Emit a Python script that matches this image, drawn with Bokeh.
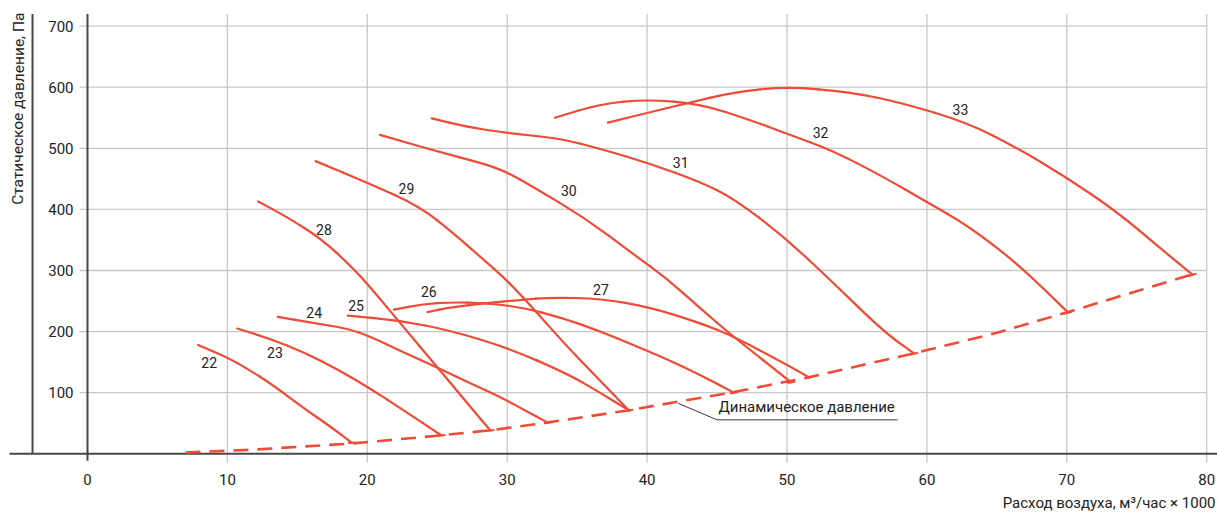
import numpy as np
from bokeh.plotting import figure
from bokeh.models import Range1d
from bokeh.core.properties import value
from bokeh.embed import file_html
from bokeh.resources import INLINE

# ---- data ----
c22_x = [7.9, 10.0, 11.5, 13.1, 15.5, 17.4, 18.9]
c22_y = [178, 158, 138, 115, 74, 44, 18]
c23_x = [10.7, 13.1, 15.5, 17.9, 20.2, 22.6, 25.3]
c23_y = [205, 188, 166, 138, 107, 71, 30]
c24_x = [13.6, 15.9, 18.6, 20.2, 22.6, 25.1, 27.5, 29.5, 31.2, 32.9]
c24_y = [224, 215, 205, 192, 166, 140, 114, 93, 72, 51]
c25_x = [18.6, 22.4, 25.9, 30.0, 34.3, 36.5, 38.7]
c25_y = [226, 218, 202, 174, 131, 102, 71]
c26_x = [21.9, 24.0, 26.0, 28.3, 31.0, 34.0, 36.7, 39.0, 41.4, 43.8, 46.2]
c26_y = [236, 245, 248, 247, 240, 222, 200, 178, 155, 129, 100]
c27_x = [24.3, 26.0, 28.3, 31.0, 33.1, 36.7, 40.2, 43.8, 46.2, 49.8, 51.6]
c27_y = [232, 240, 246, 252, 256, 254, 240, 214, 192, 148, 125]
c28_x = [12.2, 14.3, 16.7, 18.8, 20.2, 22.6, 25.0, 27.4, 28.8]
c28_y = [413, 387, 352, 308, 273, 207, 142, 76, 38]
c29_x = [16.3, 20.2, 23.8, 26.2, 28.0, 30.0, 32.2, 34.3, 36.5, 38.7]
c29_y = [479, 442, 404, 360, 324, 284, 229, 175, 123, 71]
c30_x = [20.9, 24.8, 28.3, 30.0, 31.9, 35.5, 39.0, 41.4, 43.8, 46.2, 50.3]
c30_y = [522, 496, 475, 461, 436, 387, 327, 287, 238, 191, 117]
c31_x = [24.6, 27.1, 30.0, 33.8, 36.7, 40.2, 43.8, 46.2, 49.8, 53.3, 56.9, 59.1]
c31_y = [549, 535, 525, 516, 499, 475, 445, 418, 355, 280, 200, 164]
c32_x = [33.4, 36.7, 40.0, 43.8, 47.4, 50.0, 53.3, 56.9, 60.0, 62.9, 66.5, 70.1]
c32_y = [550, 573, 580, 573, 546, 524, 496, 453, 412, 374, 311, 231]
c33_x = [37.2, 40.0, 42.9, 46.2, 50.0, 54.5, 58.1, 62.9, 66.5, 70.0, 73.6, 76.7, 79.0]
c33_y = [542, 558, 574, 592, 601, 592, 575, 542, 500, 452, 396, 336, 293]

dyn_x = [7.0, 12.0, 19.0, 25.2, 29.0, 32.8, 38.6, 46.2, 51.5, 59.0, 65.0, 70.1, 79.0]
dyn_y = [2, 7, 17, 30, 39, 51, 71, 101, 125, 164, 198, 232, 294]

curve_names = ["22", "23", "24", "25", "26", "27", "28", "29", "30", "31", "32", "33"]
label_x = [8.7, 13.4, 16.2, 19.2, 24.4, 36.7, 16.9, 22.8, 34.4, 42.4, 52.4, 62.4]
label_y = [150, 166, 231, 242, 266, 269, 367, 435, 431, 477, 526, 564]

x_ticks = [0, 10, 20, 30, 40, 50, 60, 70, 80]
y_ticks = [100, 200, 300, 400, 500, 600, 700]

x_title = "Расход воздуха, м³/час × 1000"
y_title = "Статическое давление, Па"
dyn_title = "Динамическое давление"

curves_x = [c22_x, c23_x, c24_x, c25_x, c26_x, c27_x, c28_x, c29_x, c30_x, c31_x, c32_x, c33_x]
curves_y = [c22_y, c23_y, c24_y, c25_y, c26_y, c27_y, c28_y, c29_y, c30_y, c31_y, c32_y, c33_y]

RED = "#EF4B36"
GRID = "#c8c8c8"
AXIS = "#474747"
TEXT = "#222222"
FONT = value("Roboto")

W, H = 1217, 513
X0PX, XSCALE = 87.0, 13.99      # pixel of x=0, pixels per unit
Y0PX, YSCALE = 453.3, 0.611     # pixel of y=0, pixels per Pa

p = figure(width=W, height=H, output_backend="svg", toolbar_location=None,
           x_axis_location=None, y_axis_location=None, min_border=0,
           x_range=Range1d(-X0PX / XSCALE, (W - X0PX) / XSCALE),
           y_range=Range1d(-(H - Y0PX) / YSCALE, Y0PX / YSCALE))
p.outline_line_color = None
p.grid.visible = False
p.background_fill_color = "white"

# grid
p.segment(x0=[-0.57] * len(y_ticks), y0=y_ticks, x1=[80.0] * len(y_ticks), y1=y_ticks,
          line_color=GRID, line_width=1.3)
xg = [t for t in x_ticks if t != 0]
p.segment(x0=xg, y0=[-14.2] * len(xg), x1=xg, y1=[720] * len(xg),
          line_color=GRID, line_width=1.3)

# axis lines
p.segment(x0=[0], y0=[-11.5], x1=[0], y1=[720], line_color=AXIS, line_width=2)
p.segment(x0=[-3.93], y0=[0], x1=[-3.93], y1=[720], line_color=AXIS, line_width=2)
p.segment(x0=[-5.58], y0=[0], x1=[W / XSCALE], y1=[0], line_color=AXIS, line_width=2)

# dynamic pressure line
p.line(dyn_x, dyn_y, line_color=RED, line_width=2.6, line_dash="15 9")


def smooth_draw(cx, cy):
    """Draw a polyline through read points with rounded corners (quadratic bezier)."""
    xs, ys = np.asarray(cx, float), np.asarray(cy, float)
    mx, my = (xs[:-1] + xs[1:]) / 2, (ys[:-1] + ys[1:]) / 2
    kw = dict(line_color=RED, line_width=2.2, line_cap="round")
    p.segment(x0=[xs[0], mx[-1]], y0=[ys[0], my[-1]], x1=[mx[0], xs[-1]], y1=[my[0], ys[-1]], **kw)
    if len(xs) > 2:
        p.quadratic(x0=mx[:-1], y0=my[:-1], x1=mx[1:], y1=my[1:], cx=xs[1:-1], cy=ys[1:-1], **kw)


for cx, cy in zip(curves_x, curves_y):
    smooth_draw(cx, cy)

# small end ticks where curves meet the dynamic pressure line
ends_x = [c[-1] for c in curves_x]
ends_y = [c[-1] for c in curves_y]
slope = np.gradient(np.array(dyn_y, float), np.array(dyn_x, float))
ang = np.arctan(np.interp(ends_x, dyn_x, slope) * YSCALE / XSCALE)
p.scatter(ends_x, ends_y, marker="dash", size=8, angle=ang, line_color=RED, line_width=2)

# curve labels
p.text(x=label_x, y=label_y, text=curve_names, text_align="center", text_baseline="middle",
       text_font=FONT, text_font_size="14px", text_color=TEXT)

# tick labels
p.text(x=[-1.0] * len(y_ticks), y=y_ticks, text=[str(v) for v in y_ticks],
       text_align="right", text_baseline="middle", text_font=FONT,
       text_font_size="15px", text_color=TEXT)
p.text(x=x_ticks, y=[-42.1] * len(x_ticks), text=[str(v) for v in x_ticks],
       text_align="center", text_baseline="middle", text_font=FONT,
       text_font_size="15px", text_color=TEXT)

# axis titles
p.text(x=[(1215 - X0PX) / XSCALE], y=[(Y0PX - 511) / YSCALE], text=[x_title],
       text_align="right", text_baseline="bottom",
       text_font=FONT, text_font_size="15px", text_color=TEXT)
p.text(x=[(18 - X0PX) / XSCALE], y=[(Y0PX - 12) / YSCALE], text=[y_title], angle=1.5707963,
       text_align="right", text_baseline="middle", text_font=FONT,
       text_font_size="15.5px", text_color=TEXT)

# annotation for dynamic pressure
p.line([42.2, 45.0, 57.9], [82.8, 55.6, 55.6], line_color="#222222", line_width=0.9)
p.text(x=[45.1], y=[62], text=[dyn_title], text_align="left", text_baseline="bottom",
       text_font=FONT, text_font_size="15px", text_color=TEXT)

open("out.html", "w").write(file_html(p, INLINE))
